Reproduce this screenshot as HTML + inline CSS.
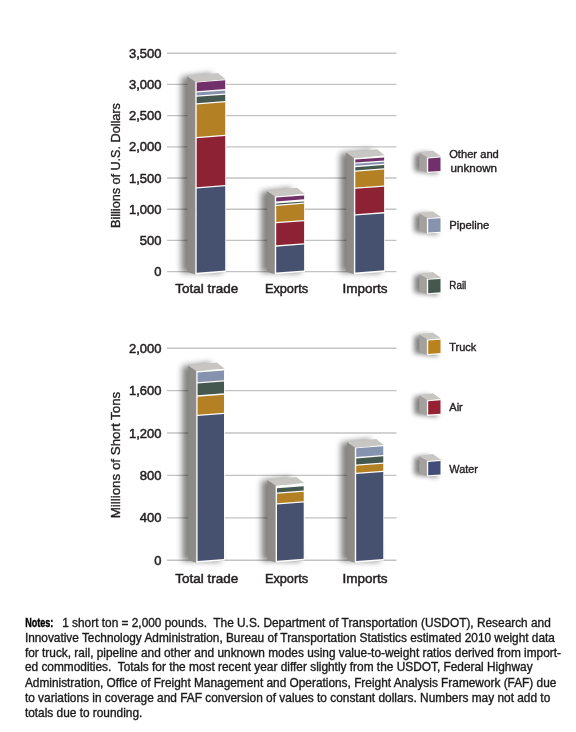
<!DOCTYPE html>
<html><head><meta charset="utf-8"><style>
html,body{margin:0;padding:0;background:#fff;width:576px;height:732px;overflow:hidden}
svg{display:block;will-change:transform}
text{font-family:"Liberation Sans",sans-serif;fill:#231f20;stroke:#231f20;stroke-width:0.5px}
.tk{font-size:13px}
.ttl{stroke-width:0.35px}
.cat{font-size:13.5px}
.lg{font-size:11.6px;stroke-width:0.4px}
.nt{font-size:11.85px;fill:#1a1a1a;stroke:#1a1a1a;stroke-width:0.35px}
.nt.nb{fill:#000;stroke:#000;stroke-width:0.4px}
.nb{font-weight:bold}
</style></head><body>
<svg width="576" height="732" viewBox="0 0 576 732">
<defs>
<filter id="blur2" x="-100%" y="-100%" width="300%" height="300%"><feGaussianBlur stdDeviation="2.8"/></filter>
<filter id="blur" x="-100%" y="-20%" width="300%" height="140%"><feGaussianBlur stdDeviation="3.4"/></filter>
<linearGradient id="sideg" x1="0" y1="0" x2="1" y2="0"><stop offset="0" stop-color="#8b8986"/><stop offset="1" stop-color="#8f8c89"/></linearGradient>
</defs>
<line x1="167" y1="53.2" x2="396.5" y2="53.2" stroke="#c3c3c3" stroke-width="1.35"/>
<text x="161.5" y="57.8" text-anchor="end" class="tk">3,500</text>
<line x1="167" y1="84.4" x2="396.5" y2="84.4" stroke="#c3c3c3" stroke-width="1.35"/>
<text x="161.5" y="89.0" text-anchor="end" class="tk">3,000</text>
<line x1="167" y1="115.6" x2="396.5" y2="115.6" stroke="#c3c3c3" stroke-width="1.35"/>
<text x="161.5" y="120.2" text-anchor="end" class="tk">2,500</text>
<line x1="167" y1="146.8" x2="396.5" y2="146.8" stroke="#c3c3c3" stroke-width="1.35"/>
<text x="161.5" y="151.4" text-anchor="end" class="tk">2,000</text>
<line x1="167" y1="178.0" x2="396.5" y2="178.0" stroke="#c3c3c3" stroke-width="1.35"/>
<text x="161.5" y="182.6" text-anchor="end" class="tk">1,500</text>
<line x1="167" y1="209.2" x2="396.5" y2="209.2" stroke="#c3c3c3" stroke-width="1.35"/>
<text x="161.5" y="213.8" text-anchor="end" class="tk">1,000</text>
<line x1="167" y1="240.4" x2="396.5" y2="240.4" stroke="#c3c3c3" stroke-width="1.35"/>
<text x="161.5" y="245.0" text-anchor="end" class="tk">500</text>
<line x1="167" y1="271.6" x2="396.5" y2="271.6" stroke="#c3c3c3" stroke-width="1.35"/>
<text x="161.5" y="276.2" text-anchor="end" class="tk">0</text>
<line x1="167" y1="348.2" x2="396.5" y2="348.2" stroke="#c3c3c3" stroke-width="1.35"/>
<text x="161.5" y="352.8" text-anchor="end" class="tk">2,000</text>
<line x1="167" y1="390.6" x2="396.5" y2="390.6" stroke="#c3c3c3" stroke-width="1.35"/>
<text x="161.5" y="395.2" text-anchor="end" class="tk">1,600</text>
<line x1="167" y1="433.0" x2="396.5" y2="433.0" stroke="#c3c3c3" stroke-width="1.35"/>
<text x="161.5" y="437.6" text-anchor="end" class="tk">1,200</text>
<line x1="167" y1="475.4" x2="396.5" y2="475.4" stroke="#c3c3c3" stroke-width="1.35"/>
<text x="161.5" y="480.0" text-anchor="end" class="tk">800</text>
<line x1="167" y1="517.8" x2="396.5" y2="517.8" stroke="#c3c3c3" stroke-width="1.35"/>
<text x="161.5" y="522.4" text-anchor="end" class="tk">400</text>
<line x1="167" y1="560.2" x2="396.5" y2="560.2" stroke="#c3c3c3" stroke-width="1.35"/>
<text x="161.5" y="564.8" text-anchor="end" class="tk">0</text>
<text transform="translate(120,165.6) rotate(-90)" text-anchor="middle" class="tk ttl" textLength="124.8" lengthAdjust="spacingAndGlyphs">Billions of U.S. Dollars</text>
<text transform="translate(120,455.0) rotate(-90)" text-anchor="middle" class="tk ttl" textLength="126.6" lengthAdjust="spacingAndGlyphs">Millions of Short Tons</text>
<polygon points="181.5,77.1 212.00000000000003,73.1975 222.0,273.09749999999997 181.5,272.4" fill="#000" opacity="0.5" filter="url(#blur)"/>
<polygon points="187.3,76.3 195.29999999999998,81.7 195.29999999999998,274.4 187.3,271.9" fill="url(#sideg)"/>
<polygon points="187.3,76.3 218.00000000000003,73.0975 226.0,79.39750000000001 195.29999999999998,81.7" fill="#c8c6c2"/>
<polygon points="195.29999999999998,81.7 226.0,79.39750000000001 226.0,272.09749999999997 195.29999999999998,274.4" fill="#fcfcfa"/>
<polygon points="196.7,82.5 225.2,80.3625 225.2,89.1125 196.7,91.25" fill="#72306a"/>
<polygon points="196.7,92.55000000000001 225.2,90.41250000000001 225.2,93.4125 196.7,95.55" fill="#8693ae"/>
<polygon points="196.7,96.85000000000001 225.2,94.7125 225.2,101.01249999999999 196.7,103.14999999999999" fill="#44584f"/>
<polygon points="196.7,104.45 225.2,102.3125 225.2,134.8125 196.7,136.95" fill="#b48024"/>
<polygon points="196.7,138.25 225.2,136.1125 225.2,185.01250000000002 196.7,187.15" fill="#8d2234"/>
<polygon points="196.7,188.45000000000002 225.2,186.31250000000003 225.2,270.5625 196.7,272.7" fill="#46506f"/>
<polygon points="261.2,191.70000000000002 291.1,187.8425 300.90000000000003,273.0425 261.2,272.3" fill="#000" opacity="0.5" filter="url(#blur)"/>
<polygon points="267.0,190.9 274.8,196.3 274.8,274.3 267.0,271.8" fill="url(#sideg)"/>
<polygon points="267.0,190.9 297.1,187.7425 304.90000000000003,194.04250000000002 274.8,196.3" fill="#c8c6c2"/>
<polygon points="274.8,196.3 304.90000000000003,194.04250000000002 304.90000000000003,272.0425 274.8,274.3" fill="#fcfcfa"/>
<polygon points="276.2,197.6 304.1,195.5075 304.1,199.3575 276.2,201.45" fill="#72306a"/>
<polygon points="276.2,203.55 304.1,201.4575 304.1,202.5575 276.2,204.65" fill="#44584f"/>
<polygon points="276.2,205.95000000000002 304.1,203.85750000000002 304.1,219.9075 276.2,222.0" fill="#b48024"/>
<polygon points="276.2,223.3 304.1,221.2075 304.1,243.2575 276.2,245.35" fill="#8d2234"/>
<polygon points="276.2,246.65 304.1,244.5575 304.1,270.5075 276.2,272.6" fill="#46506f"/>
<polygon points="340.4,153.3 371.2,149.375 380.90000000000003,272.875 340.4,272.2" fill="#000" opacity="0.5" filter="url(#blur)"/>
<polygon points="346.2,152.5 353.90000000000003,157.9 353.90000000000003,274.2 346.2,271.7" fill="url(#sideg)"/>
<polygon points="346.2,152.5 377.2,149.275 384.90000000000003,155.57500000000002 353.90000000000003,157.9" fill="#c8c6c2"/>
<polygon points="353.90000000000003,157.9 384.90000000000003,155.57500000000002 384.90000000000003,271.875 353.90000000000003,274.2" fill="#fcfcfa"/>
<polygon points="355.3,159.6 384.1,157.44 384.1,160.39 355.3,162.54999999999998" fill="#72306a"/>
<polygon points="355.3,163.85 384.1,161.69 384.1,163.69 355.3,165.85" fill="#8693ae"/>
<polygon points="355.3,167.15 384.1,164.99 384.1,168.29 355.3,170.45" fill="#44584f"/>
<polygon points="355.3,171.75 384.1,169.59 384.1,185.39 355.3,187.54999999999998" fill="#b48024"/>
<polygon points="355.3,188.85 384.1,186.69 384.1,212.09 355.3,214.25" fill="#8d2234"/>
<polygon points="355.3,215.55 384.1,213.39000000000001 384.1,270.34 355.3,272.5" fill="#46506f"/>
<polygon points="182.39999999999998,366.3 210.8,362.555 220.8,561.5550000000001 182.39999999999998,560.7" fill="#000" opacity="0.5" filter="url(#blur)"/>
<polygon points="188.2,365.5 196.2,370.9 196.2,562.7 188.2,560.2" fill="url(#sideg)"/>
<polygon points="188.2,365.5 216.8,362.45500000000004 224.8,368.755 196.2,370.9" fill="#c8c6c2"/>
<polygon points="196.2,370.9 224.8,368.755 224.8,560.5550000000001 196.2,562.7" fill="#fcfcfa"/>
<polygon points="197.6,372.6 224.0,370.62 224.0,380.27 197.6,382.25" fill="#8693ae"/>
<polygon points="197.6,383.54999999999995 224.0,381.56999999999994 224.0,393.37 197.6,395.35" fill="#44584f"/>
<polygon points="197.6,396.65 224.0,394.66999999999996 224.0,412.82 197.6,414.8" fill="#b48024"/>
<polygon points="197.6,416.09999999999997 224.0,414.11999999999995 224.0,559.02 197.6,561.0" fill="#46506f"/>
<polygon points="261.59999999999997,480.8 290.29999999999995,477.03249999999997 300.5,561.3325 261.59999999999997,560.5" fill="#000" opacity="0.5" filter="url(#blur)"/>
<polygon points="267.4,480.0 275.6,485.4 275.6,562.5 267.4,560.0" fill="url(#sideg)"/>
<polygon points="267.4,480.0 296.29999999999995,476.9325 304.5,483.23249999999996 275.6,485.4" fill="#c8c6c2"/>
<polygon points="275.6,485.4 304.5,483.23249999999996 304.5,560.3325 275.6,562.5" fill="#fcfcfa"/>
<polygon points="277.0,488.25 303.7,486.2475 303.7,490.44750000000005 277.0,492.45000000000005" fill="#44584f"/>
<polygon points="277.0,493.75 303.7,491.7475 303.7,501.2975 277.0,503.3" fill="#b48024"/>
<polygon points="277.0,504.59999999999997 303.7,502.59749999999997 303.7,558.7974999999999 277.0,560.8" fill="#46506f"/>
<polygon points="341.2,442.8 370.25,439.00624999999997 380.05,561.50625 341.2,560.7" fill="#000" opacity="0.5" filter="url(#blur)"/>
<polygon points="347.0,442.0 354.8,447.4 354.8,562.7 347.0,560.2" fill="url(#sideg)"/>
<polygon points="347.0,442.0 376.25,438.90625 384.05,445.20624999999995 354.8,447.4" fill="#c8c6c2"/>
<polygon points="354.8,447.4 384.05,445.20624999999995 384.05,560.50625 354.8,562.7" fill="#fcfcfa"/>
<polygon points="356.2,448.25 383.25,446.22125 383.25,455.07125 356.2,457.1" fill="#8693ae"/>
<polygon points="356.2,458.4 383.25,456.37125 383.25,462.42125000000004 356.2,464.45000000000005" fill="#44584f"/>
<polygon points="356.2,465.75 383.25,463.72125 383.25,470.77125 356.2,472.8" fill="#b48024"/>
<polygon points="356.2,474.09999999999997 383.25,472.07124999999996 383.25,558.97125 356.2,561.0" fill="#46506f"/>
<text x="206.7" y="293.4" text-anchor="middle" class="cat" textLength="63" lengthAdjust="spacingAndGlyphs">Total trade</text>
<text x="286.5" y="293.4" text-anchor="middle" class="cat" textLength="43.2" lengthAdjust="spacingAndGlyphs">Exports</text>
<text x="365.1" y="293.4" text-anchor="middle" class="cat" textLength="45" lengthAdjust="spacingAndGlyphs">Imports</text>
<text x="206.7" y="583.0" text-anchor="middle" class="cat" textLength="63" lengthAdjust="spacingAndGlyphs">Total trade</text>
<text x="286.5" y="583.0" text-anchor="middle" class="cat" textLength="43.2" lengthAdjust="spacingAndGlyphs">Exports</text>
<text x="365.1" y="583.0" text-anchor="middle" class="cat" textLength="45" lengthAdjust="spacingAndGlyphs">Imports</text>
<polygon points="414.3,154.0 428.3,152.02 438.4,174.12 414.3,171.1" fill="#000" opacity="0.5" filter="url(#blur2)"/>
<polygon points="419.3,152.5 427.4,157.5 427.4,173.1 419.3,169.1" fill="#a4a19d"/>
<polygon points="419.3,152.5 432.8,150.52 441.4,156.52 427.4,157.5" fill="#c8c6c2"/>
<polygon points="426.9,157.5 441.4,156.52 441.4,172.12 426.9,173.1" fill="#fcfcfa"/>
<polygon points="428.2,158.4 440.5,157.53900000000002 440.5,170.939 428.2,171.79999999999998" fill="#72306a"/>
<polygon points="414.3,214.7 428.3,212.72 438.4,234.82 414.3,231.79999999999998" fill="#000" opacity="0.5" filter="url(#blur2)"/>
<polygon points="419.3,213.2 427.4,218.2 427.4,233.79999999999998 419.3,229.79999999999998" fill="#a4a19d"/>
<polygon points="419.3,213.2 432.8,211.22 441.4,217.22 427.4,218.2" fill="#c8c6c2"/>
<polygon points="426.9,218.2 441.4,217.22 441.4,232.82 426.9,233.79999999999998" fill="#fcfcfa"/>
<polygon points="428.2,219.1 440.5,218.239 440.5,231.63899999999998 428.2,232.49999999999997" fill="#8693ae"/>
<polygon points="414.3,275.4 428.3,273.41999999999996 438.4,295.52 414.3,292.5" fill="#000" opacity="0.5" filter="url(#blur2)"/>
<polygon points="419.3,273.9 427.4,278.9 427.4,294.5 419.3,290.5" fill="#a4a19d"/>
<polygon points="419.3,273.9 432.8,271.91999999999996 441.4,277.91999999999996 427.4,278.9" fill="#c8c6c2"/>
<polygon points="426.9,278.9 441.4,277.91999999999996 441.4,293.52 426.9,294.5" fill="#fcfcfa"/>
<polygon points="428.2,279.79999999999995 440.5,278.93899999999996 440.5,292.339 428.2,293.2" fill="#44584f"/>
<polygon points="414.3,336.1 428.3,334.12 438.4,356.22 414.3,353.20000000000005" fill="#000" opacity="0.5" filter="url(#blur2)"/>
<polygon points="419.3,334.6 427.4,339.6 427.4,355.20000000000005 419.3,351.20000000000005" fill="#a4a19d"/>
<polygon points="419.3,334.6 432.8,332.62 441.4,338.62 427.4,339.6" fill="#c8c6c2"/>
<polygon points="426.9,339.6 441.4,338.62 441.4,354.22 426.9,355.20000000000005" fill="#fcfcfa"/>
<polygon points="428.2,340.5 440.5,339.639 440.5,353.03900000000004 428.2,353.90000000000003" fill="#b8821f"/>
<polygon points="414.3,396.8 428.3,394.82 438.4,416.92 414.3,413.90000000000003" fill="#000" opacity="0.5" filter="url(#blur2)"/>
<polygon points="419.3,395.3 427.4,400.3 427.4,415.90000000000003 419.3,411.90000000000003" fill="#a4a19d"/>
<polygon points="419.3,395.3 432.8,393.32 441.4,399.32 427.4,400.3" fill="#c8c6c2"/>
<polygon points="426.9,400.3 441.4,399.32 441.4,414.92 426.9,415.90000000000003" fill="#fcfcfa"/>
<polygon points="428.2,401.2 440.5,400.339 440.5,413.73900000000003 428.2,414.6" fill="#952234"/>
<polygon points="414.3,457.5 428.3,455.52 438.4,477.62 414.3,474.6" fill="#000" opacity="0.5" filter="url(#blur2)"/>
<polygon points="419.3,456.0 427.4,461.0 427.4,476.6 419.3,472.6" fill="#a4a19d"/>
<polygon points="419.3,456.0 432.8,454.02 441.4,460.02 427.4,461.0" fill="#c8c6c2"/>
<polygon points="426.9,461.0 441.4,460.02 441.4,475.62 426.9,476.6" fill="#fcfcfa"/>
<polygon points="428.2,461.9 440.5,461.039 440.5,474.439 428.2,475.3" fill="#434d7a"/>
<text x="449.2" y="158.4" class="lg" textLength="49.6" lengthAdjust="spacingAndGlyphs">Other and</text>
<text x="450.6" y="172.1" class="lg" textLength="46.5" lengthAdjust="spacingAndGlyphs">unknown</text>
<text x="449.3" y="228.6" class="lg" textLength="40" lengthAdjust="spacingAndGlyphs">Pipeline</text>
<text x="449.3" y="288.9" class="lg" textLength="17" lengthAdjust="spacingAndGlyphs">Rail</text>
<text x="449.3" y="350.9" class="lg" textLength="27" lengthAdjust="spacingAndGlyphs">Truck</text>
<text x="449.3" y="411.1" class="lg" textLength="13.5" lengthAdjust="spacingAndGlyphs">Air</text>
<text x="449.3" y="473.3" class="lg" textLength="28.6" lengthAdjust="spacingAndGlyphs">Water</text>
<text x="62.2" y="626.8" class="nt" textLength="488.6" lengthAdjust="spacingAndGlyphs">1 short ton = 2,000 pounds.&nbsp; The U.S. Department of Transportation (USDOT), Research and</text>
<text x="24.9" y="642.1" class="nt" textLength="530.0" lengthAdjust="spacingAndGlyphs">Innovative Technology Administration, Bureau of Transportation Statistics estimated 2010 weight data</text>
<text x="24.9" y="656.7" class="nt" textLength="536.1" lengthAdjust="spacingAndGlyphs">for truck, rail, pipeline and other and unknown modes using value-to-weight ratios derived from import-</text>
<text x="24.9" y="671.4" class="nt" textLength="507.7" lengthAdjust="spacingAndGlyphs">ed commodities.&nbsp; Totals for the most recent year differ slightly from the USDOT, Federal Highway</text>
<text x="24.9" y="686.7" class="nt" textLength="531.5" lengthAdjust="spacingAndGlyphs">Administration, Office of Freight Management and Operations, Freight Analysis Framework (FAF) due</text>
<text x="24.9" y="701.9" class="nt" textLength="525.4" lengthAdjust="spacingAndGlyphs">to variations in coverage and FAF conversion of values to constant dollars. Numbers may not add to</text>
<text x="24.9" y="716.5" class="nt" textLength="117.4" lengthAdjust="spacingAndGlyphs">totals due to rounding.</text>
<text x="25.2" y="626.8" class="nt nb" style="font-size:12.5px" textLength="28.2" lengthAdjust="spacingAndGlyphs">Notes:</text>
</svg>
</body></html>
